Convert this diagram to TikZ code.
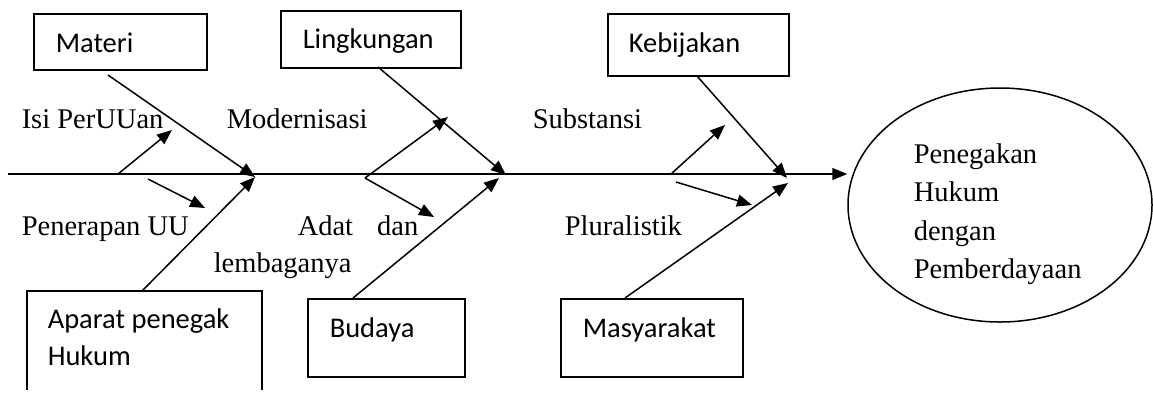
\documentclass[tikz,border=0pt]{standalone}
\usepackage{fontspec}
\setmainfont{Liberation Serif}
\newfontfamily\boxfont{Carlito}
\usetikzlibrary{arrows.meta,shapes.geometric}
\begin{document}
\begin{tikzpicture}[x=1pt,y=-1pt,line width=1.5pt,
  box/.style={draw,rectangle,anchor=north west,inner sep=0pt},
  lbl/.style={anchor=base west,inner sep=0pt,font=\fontsize{28.5}{37}\selectfont},
  blbl/.style={anchor=base west,inner sep=0pt,font=\boxfont\fontsize{28.5}{37}\selectfont},
  arr/.style={-{Triangle[length=15pt,width=12pt]}}]
\useasboundingbox (0,0) rectangle (1153,392);
\clip (0,0) rectangle (1153,389.5);
% boxes
\node[box,minimum width=173pt,minimum height=56pt] (materi) at (33,13) {};
\node[blbl] (materit) at (55,52) {Materi};
\node[box,minimum width=180pt,minimum height=57pt] (lingk) at (280,10) {};
\node[blbl] (lingkt) at (302,48) {Lingkungan};
\node[box,minimum width=181pt,minimum height=62pt] (kebij) at (607,13) {};
\node[blbl] (kebijt) at (628,52) {Kebijakan};
\node[box,minimum width=235pt,minimum height=120pt] (aparat) at (26,290) {};
\node[blbl,anchor=north west,align=left] (aparatt) at (47,308.2) {Aparat penegak\\Hukum};
\node[box,minimum width=157pt,minimum height=78pt] (budaya) at (307,298) {};
\node[blbl] (budayat) at (329,337) {Budaya};
\node[box,minimum width=182pt,minimum height=78pt] (masy) at (560,298) {};
\node[blbl] (masyt) at (582,337) {Masyarakat};
% goal
\node[draw,ellipse,minimum width=304pt,minimum height=234pt,inner sep=0pt] (goal) at (1000,205) {};
\node[lbl,anchor=north west,align=left,font=\fontsize{28.5}{38.5}\selectfont] (goalt) at (913,142.5) {Penegakan\\Hukum\\dengan\\Pemberdayaan};
% labels
\node[lbl] (isi) at (21,128) {Isi PerUUan};
\node[lbl] (modern) at (226,128) {Modernisasi};
\node[lbl] (subst) at (532,128) {Substansi};
\node[lbl] (pener) at (21,235) {Penerapan UU};
\node[lbl] (adat) at (297,235) {Adat\hspace{24pt}dan};
\node[lbl] (lemb) at (213,272) {lembaganya};
\node[lbl] (plural) at (564,235) {Pluralistik};
% coordinates
\coordinate (s0) at (8,174);
\coordinate (j1) at (255,177);
\coordinate (m0) at (108,75);
\coordinate (a0) at (143,290);
\coordinate (i0) at (118,174);
\coordinate (i1) at (172,130);
\coordinate (p0) at (148,179);
\coordinate (p1) at (205,208);
\coordinate (j2) at (506,175);
\coordinate (j2b) at (499,178);
\coordinate (l0) at (378,67);
\coordinate (b0) at (353,298);
\coordinate (mo0) at (365,178);
\coordinate (mo1) at (448,117);
\coordinate (ad1) at (434,217);
\coordinate (j3) at (787,178);
\coordinate (j3b) at (788,183);
\coordinate (k0) at (697,76);
\coordinate (ms0) at (625,298);
\coordinate (su0) at (671,174);
\coordinate (su1) at (725,125);
\coordinate (pl0) at (676,182);
\coordinate (pl1) at (752,205);
% spine
\draw[arr] (s0) -- (s0 -| goal.west);
% bones
\draw[arr] (m0) -- (j1);
\draw[arr] (a0) -- (j1);
\draw[arr] (i0) -- (i1);
\draw[arr] (p0) -- (p1);
\draw[arr] (l0) -- (j2);
\draw[arr] (b0) -- (j2b);
\draw[arr] (mo0) -- (mo1);
\draw[arr] (mo0) -- (ad1);
\draw[arr] (k0) -- (j3);
\draw[arr] (ms0) -- (j3b);
\draw[arr] (su0) -- (su1);
\draw[arr] (pl0) -- (pl1);
\end{tikzpicture}
\end{document}
